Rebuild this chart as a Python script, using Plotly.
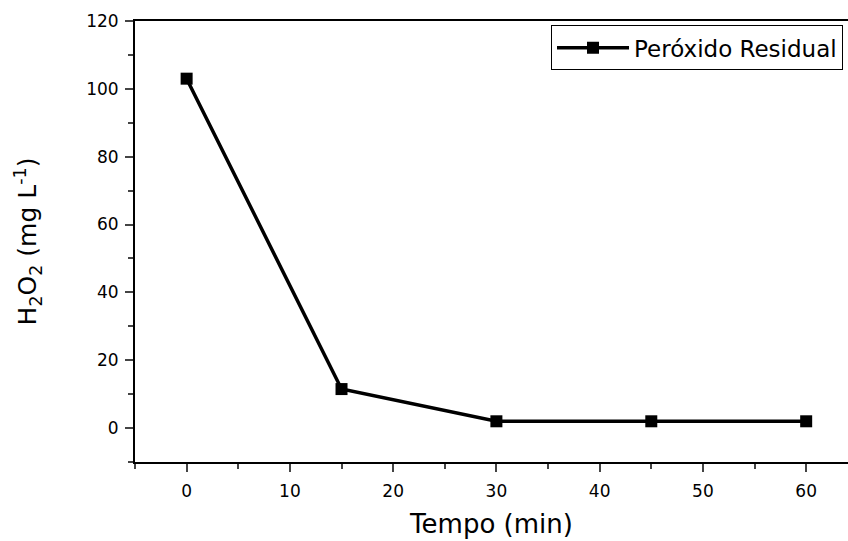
import plotly.graph_objects as go

# Residual hydrogen peroxide over time
tempo_min = [0, 15, 30, 45, 60]
h2o2_mg_l = [103, 11.5, 2, 2, 2]
serie_nome = "Peróxido Residual"

x_ticks = [0, 10, 20, 30, 40, 50, 60]
y_ticks = [0, 20, 40, 60, 80, 100, 120]

fonte = "DejaVu Sans, Arial, sans-serif"
fonte_ticks = dict(family=fonte, size=17, color="black")

fig = go.Figure()
fig.add_trace(go.Scatter(
    x=tempo_min, y=h2o2_mg_l, mode="lines+markers", name=serie_nome,
    line=dict(color="black", width=3.5),
    marker=dict(symbol="square", size=12, color="black"),
))

fig.update_layout(
    width=848, height=541,
    margin=dict(l=135, r=0, t=21, b=79),
    paper_bgcolor="white", plot_bgcolor="white",
    font=dict(family=fonte, color="black"),
    showlegend=True,
    legend=dict(
        x=0.993, y=0.99, xanchor="right", yanchor="top",
        bordercolor="black", borderwidth=1, bgcolor="white",
        font=dict(size=23, family=fonte), itemwidth=72,
    ),
)
fig.update_xaxes(
    range=[-5, 64.05], tickmode="array", tickvals=x_ticks,
    ticktext=[str(v) for v in x_ticks], tickfont=fonte_ticks,
    ticks="outside", ticklen=8, tickwidth=2, ticklabelstandoff=5,
    minor=dict(dtick=5, tick0=0, ticks="outside", ticklen=5, tickwidth=2),
    showline=True, linecolor="black", linewidth=2, mirror=True,
    showgrid=False, zeroline=False,
    title=dict(text="Tempo (min)", font=dict(size=26), standoff=14),
)
fig.update_yaxes(
    range=[-10, 120], tickmode="array", tickvals=y_ticks,
    ticktext=[str(v) for v in y_ticks], tickfont=fonte_ticks,
    ticks="outside", ticklen=8, tickwidth=2, ticklabelstandoff=3,
    minor=dict(dtick=10, tick0=0, ticks="outside", ticklen=5, tickwidth=2),
    showline=True, linecolor="black", linewidth=2,
    showgrid=False, zeroline=False,
    title=dict(text="H<sub>2</sub>O<sub>2</sub> (mg L<sup>-1</sup>)", font=dict(size=25), standoff=42),
)

fig.write_html("out.html")
